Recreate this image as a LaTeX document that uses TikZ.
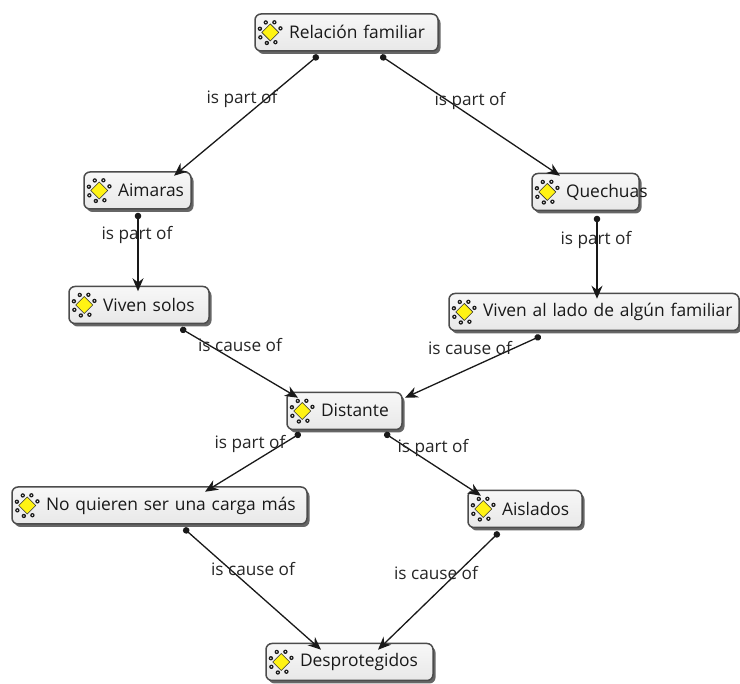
\documentclass[tikz,border=0pt]{standalone}
\usepackage{fontspec}
\setmainfont{Open Sans}
\usetikzlibrary{shadows,arrows.meta}
\tikzset{
  x=1pt,y=-1pt,
  concept/.style={draw=black!70,line width=1.5pt,rounded corners=6pt,
    top color=white!97!black,bottom color=black!9,
    minimum height=37pt,inner sep=0pt,
    font=\fontsize{17.4}{20}\selectfont,text=black!90,
    drop shadow={shadow xshift=2.5pt,shadow yshift=-3pt,fill=black!70,opacity=.85}},
  link/.style={draw=black!90,line width=1.3pt,shorten <=-3pt,{Circle[length=6.5pt,width=6.5pt]}-{Stealth[length=13pt,width=11pt]}},
  linklabel/.style={font=\fontsize{17.2}{20}\selectfont,text=black!85,inner sep=0pt,yshift=-1.5pt},
  pics/gem/.style={code={
    \foreach \a in {22,68,...,340}{\fill[black!90] (\a:11pt) circle (2.2pt);\fill[white] (\a:11pt) circle (.8pt);}
    \draw[black!80,line width=.7pt,fill=yellow!92!white] (-8.5,0)--(0,-8.5)--(8.5,0)--(0,8.5)--cycle;
  }}
}
\newcommand{\conceptbox}[5]{% name, cx, cy, w, text
  \node[concept,minimum width=#4pt,text width=#4pt-10pt,align=left] (#1) at (#2,#3) {\hspace*{29pt}\raisebox{1pt}{\mbox{#5}}};
  \pic at ([xshift=16pt]#1.west) {gem};
}
\begin{document}
\begin{tikzpicture}
\useasboundingbox (0,0) rectangle (740,684);
\fill[white] (0,0) rectangle (740,684);
\conceptbox{rel}{346.5}{32.5}{183}{Relación familiar}
\conceptbox{aim}{137.5}{190.5}{107}{Aimaras}
\conceptbox{que}{585.5}{192}{107}{Quechuas}
\conceptbox{sol}{139}{305}{140}{Viven solos}
\conceptbox{lado}{594}{312}{290}{Viven al lado de algún familiar}
\conceptbox{dis}{344.5}{411}{115}{Distante}
\conceptbox{noq}{159.5}{505.5}{295}{No quieren ser una carga más}
\conceptbox{ais}{525}{509}{114}{Aislados}
\conceptbox{des}{349.5}{662}{167}{Desprotegidos}
\draw[link] ([xshift=-30.5pt,yshift=-5.5pt]rel.south) -- ([xshift=36.5pt,yshift=-4.5pt]aim.north);
\draw[link] ([xshift=36.5pt,yshift=-5.5pt]rel.south) -- ([xshift=-25.5pt,yshift=-3pt]que.north);
\draw[link] ([xshift=.5pt,yshift=-6pt]aim.south) -- ([xshift=-1pt,yshift=-5.5pt]sol.north);
\draw[link] ([xshift=11.5pt,yshift=-7.5pt]que.south) -- ([xshift=3pt,yshift=-6pt]lado.north);
\draw[link] ([xshift=44pt,yshift=-5.5pt]sol.south) -- ([xshift=-46.5pt,yshift=-6pt]dis.north);
\draw[link] ([xshift=-56pt,yshift=-6pt]lado.south) -- ([xshift=60.5pt,yshift=-6pt]dis.north);
\draw[link] ([xshift=-46.5pt,yshift=-4.5pt]dis.south) -- ([xshift=45.5pt,yshift=-5.5pt]noq.north);
\draw[link] ([xshift=42.5pt,yshift=-4.5pt]dis.south) -- ([xshift=-44pt,yshift=-6pt]ais.north);
\draw[link] ([xshift=26.5pt,yshift=-5.5pt]noq.south) -- ([xshift=-28.5pt,yshift=-7pt]des.north);
\draw[link] ([xshift=-28pt,yshift=-6pt]ais.south) -- ([xshift=28.5pt,yshift=-7pt]des.north);
\node[linklabel] (l1) at (242,97) {is part of};
\node[linklabel] (l2) at (470,99) {is part of};
\node[linklabel] (l3) at (137,233) {is part of};
\node[linklabel] (l4) at (596,238) {is part of};
\node[linklabel] (l5) at (240,344) {is cause of};
\node[linklabel] (l6) at (470,347) {is cause of};
\node[linklabel] (l7) at (250,442) {is part of};
\node[linklabel] (l8) at (433,446) {is part of};
\node[linklabel] (l9) at (253,568) {is cause of};
\node[linklabel] (l10) at (436,572) {is cause of};
\end{tikzpicture}
\end{document}
